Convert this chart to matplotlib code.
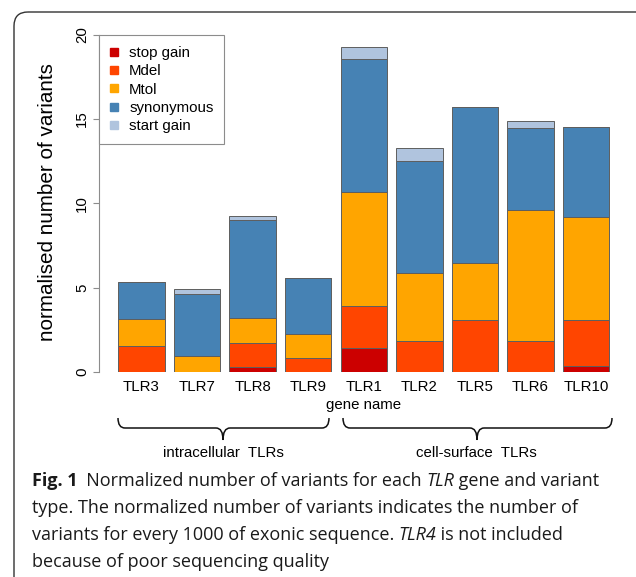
import matplotlib
matplotlib.use("Agg")
import matplotlib.pyplot as plt
import numpy as np
from matplotlib.patches import FancyBboxPatch, PathPatch
from matplotlib.path import Path

genes = ["TLR3", "TLR7", "TLR8", "TLR9", "TLR1", "TLR2", "TLR5", "TLR6", "TLR10"]
variant_types = ["stop gain", "Mdel", "Mtol", "synonymous", "start gain"]
stop_gain = [0.00, 0.00, 0.30, 0.00, 1.41, 0.00, 0.00, 0.00, 0.36]
mdel = [1.53, 0.00, 1.42, 0.81, 2.49, 1.80, 3.05, 1.82, 2.69]
mtol = [1.58, 0.95, 1.45, 1.43, 6.79, 4.04, 3.42, 7.80, 6.16]
synonymous = [2.20, 3.66, 5.84, 3.34, 7.86, 6.67, 9.23, 4.85, 5.34]
start_gain = [0.00, 0.28, 0.24, 0.00, 0.71, 0.76, 0.00, 0.40, 0.00]
colors = ["#cc0000", "#ff4500", "#ffa500", "#4682b4", "#b0c4de"]
groups = ["intracellular  TLRs", "cell-surface  TLRs"]

W, H = 636, 577
fig = plt.figure(figsize=(W / 100, H / 100), dpi=100)

# pixel overlay for frame, braces and caption
ov = fig.add_axes([0, 0, 1, 1], zorder=0)
ov.set_xlim(0, W)
ov.set_ylim(H, 0)
ov.axis("off")
ov.patch.set_alpha(0)

# main bar chart, R barplot style: bars of width 1 with space 0.2
px_unit = 16.84
y0_px = 371.7
top_px = y0_px - 20.8 * px_unit
left_px, right_px = 98.7, 628.9
ax = fig.add_axes([left_px / W, (H - y0_px) / H, (right_px - left_px) / W, (y0_px - top_px) / H], zorder=1)
ax.patch.set_alpha(0)

x = 0.7 + 1.2 * np.arange(len(genes))
series = [stop_gain, mdel, mtol, synonymous, start_gain]
bottom = np.zeros(len(genes))
for vals, c in zip(series, colors):
    ax.bar(x, vals, width=1.0, bottom=bottom, color=c, edgecolor="#5e5e5e", linewidth=0.7)
    bottom += np.array(vals)

ax.set_xlim(-0.224, 11.224)
ax.set_ylim(0, 20.8)
for s in ["top", "right", "bottom"]:
    ax.spines[s].set_visible(False)
ax.spines["left"].set_bounds(0, 20)
ax.spines["left"].set_color("#8c8c8c")
ax.set_yticks([0, 5, 10, 15, 20])
ax.tick_params(axis="y", length=4, color="#8c8c8c", pad=3, labelsize=10.8)
for lab in ax.get_yticklabels():
    lab.set_rotation(90)
    lab.set_va("center")
ax.set_xticks(x)
ax.set_xticklabels(genes, fontsize=10.8)
ax.tick_params(axis="x", length=0, pad=6)
for lab in ax.get_xticklabels() + ax.get_yticklabels():
    lab.set_family("Liberation Sans")

handles = [plt.Line2D([], [], ls="", marker="s", ms=5.5, color=c) for c in colors]
leg = ax.legend(handles, variant_types, loc="upper left", bbox_to_anchor=(-0.224, 20),
                bbox_transform=ax.transData, borderaxespad=0, fancybox=False,
                edgecolor="#8c8c8c", framealpha=1, prop={"family": "Liberation Sans", "size": 10.8},
                handlelength=0.6, handletextpad=0.7, labelspacing=0.29, borderpad=0.73)
leg.get_frame().set_linewidth(0.8)

# axis labels
ov.text(48, 202, "normalised number of variants", rotation=90, ha="center", va="center",
        fontsize=14.9, family="Liberation Sans")
ov.text(363.8, 405, "gene name", ha="center", va="center", fontsize=10.8, family="Liberation Sans")

# braces under the gene groups
def brace(l, r, c, top=418, hy=428, tip=440, rr=7):
    verts = [(l, top), (l, hy), (l + rr, hy), (c - rr, hy), (c, hy), (c, tip),
             (c, hy), (c + rr, hy), (r - rr, hy), (r, hy), (r, top)]
    codes = [Path.MOVETO, Path.CURVE3, Path.CURVE3, Path.LINETO, Path.CURVE3, Path.CURVE3,
             Path.CURVE3, Path.CURVE3, Path.LINETO, Path.CURVE3, Path.CURVE3]
    ov.add_patch(PathPatch(Path(verts, codes), fill=False, lw=1.1, color="#111111"))

brace(118, 329, 223)
brace(343, 612, 477)
ov.text(223, 453, groups[0], ha="center", va="center", fontsize=10.8, family="Liberation Sans")
ov.text(476, 453, groups[1], ha="center", va="center", fontsize=10.8, family="Liberation Sans")

# outer rounded frame
ov.add_patch(FancyBboxPatch((14, 12), 700, 700, boxstyle="round,pad=0,rounding_size=14",
                            fill=False, lw=1.0, ec="#333333"))

# caption with mixed styles
cap_font = "Open Sans"
fig.canvas.draw()
renderer = fig.canvas.get_renderer()

def measure(t):
    return t.get_window_extent(renderer).width

probe = ov.text(0, 0, "type. The normalized number of variants indicates the number of",
                fontsize=14, family=cap_font)
cap_size = 14 * 551 / measure(probe)
probe.remove()

lines = [
    [("Fig. 1", "bold", "normal"), ("  Normalized number of variants for each ", "normal", "normal"),
     ("TLR", "normal", "italic"), (" gene and variant", "normal", "normal")],
    [("type. The normalized number of variants indicates the number of", "normal", "normal")],
    [("variants for every 1000 of exonic sequence. ", "normal", "normal"), ("TLR4", "normal", "italic"),
     (" is not included", "normal", "normal")],
    [("because of poor sequencing quality", "normal", "normal")],
]
baselines = [486, 513, 540, 567]
for segs, yb in zip(lines, baselines):
    xp = 31.5
    for txt, wt, st in segs:
        t = ov.text(xp, yb, txt, fontsize=cap_size, family=cap_font, weight=wt, style=st,
                    va="baseline", ha="left", color="#1a1a1a")
        xp += measure(t)

fig.savefig("out.png", dpi=100)
